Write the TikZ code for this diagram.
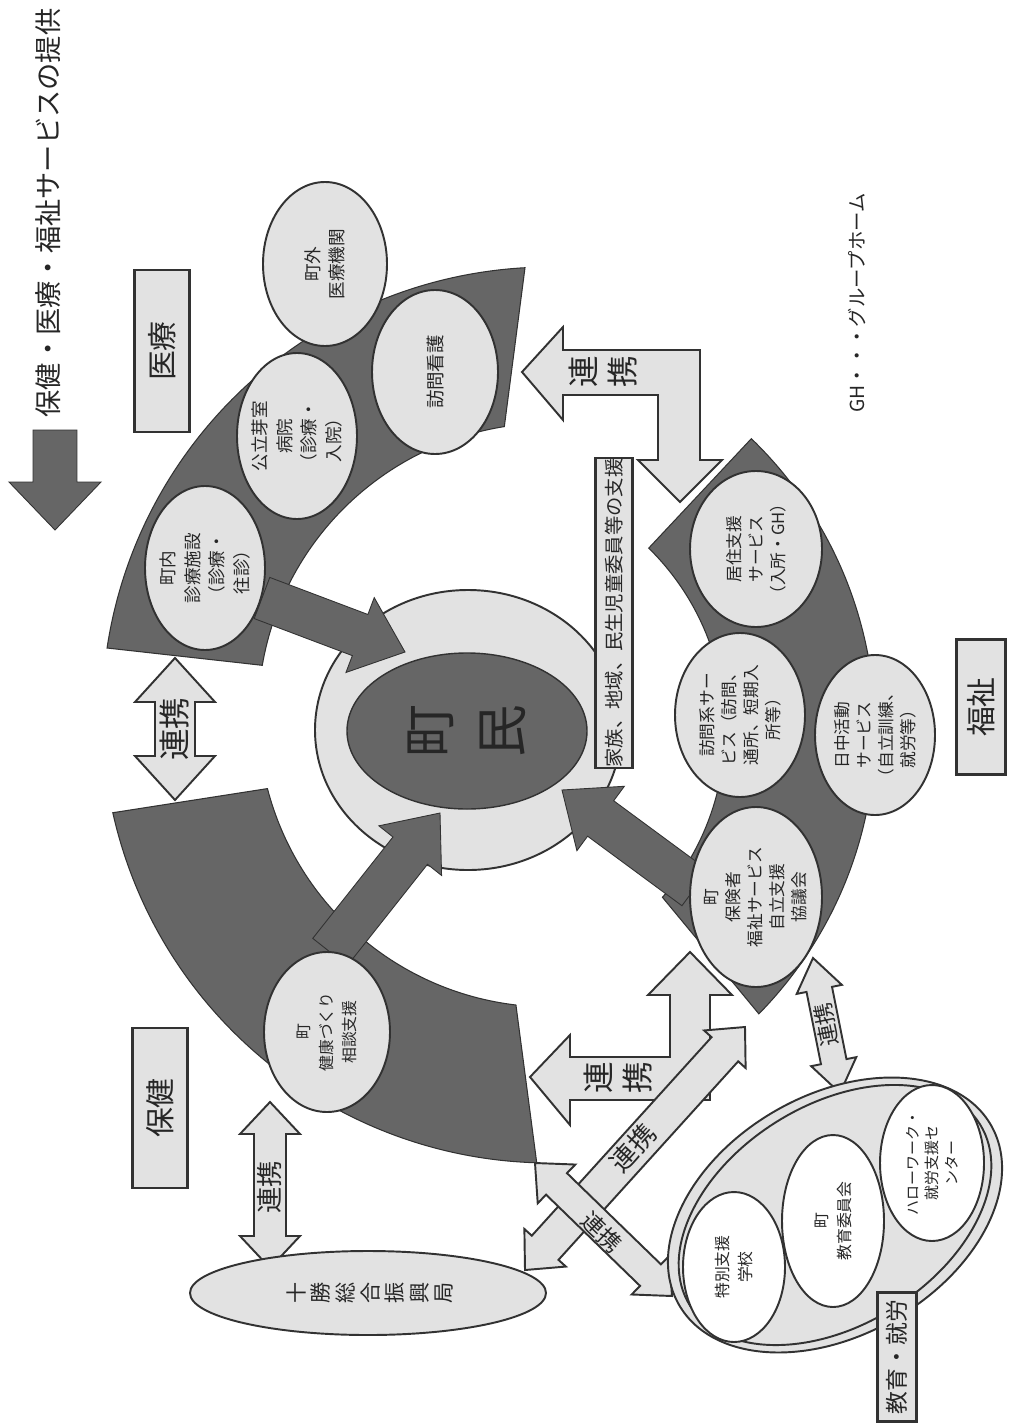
\documentclass[tikz,border=0pt]{standalone}
\usepackage{fontspec}
\setmainfont{Noto Sans CJK JP}
\usetikzlibrary{calc}
\definecolor{bandgray}{RGB}{102,102,102}
\definecolor{palegray}{RGB}{226,226,226}
\definecolor{edgegray}{RGB}{50,50,50}

% block arrow, one head: tail, tip, half shaft, half head, head length, style
\newcommand{\onearrow}[6]{%
  \coordinate (hd) at ($(#2)!#5!(#1)$);
  \draw[#6] ($(#1)!#3!90:(#2)$) -- ($(hd)!#3!90:(#2)$) -- ($(hd)!#4!90:(#2)$) -- (#2)
    -- ($(hd)!#4!-90:(#2)$) -- ($(hd)!#3!-90:(#2)$) -- ($(#1)!#3!-90:(#2)$) -- cycle;}
% block arrow, two heads
\newcommand{\twoarrow}[6]{%
  \coordinate (ha) at ($(#1)!#5!(#2)$);
  \coordinate (hb) at ($(#2)!#5!(#1)$);
  \draw[#6] (#1) -- ($(ha)!#4!90:(#2)$) -- ($(ha)!#3!90:(#2)$) -- ($(hb)!#3!-90:(#1)$)
    -- ($(hb)!#4!-90:(#1)$) -- (#2) -- ($(hb)!#4!90:(#1)$) -- ($(hb)!#3!90:(#1)$)
    -- ($(ha)!#3!-90:(#2)$) -- ($(ha)!#4!-90:(#2)$) -- cycle;}

\begin{document}
\begin{tikzpicture}[x=0.02cm, y=-0.02cm]
\tikzstyle{band}=[fill=bandgray, draw=edgegray, line width=0.6pt]
\tikzstyle{svc}=[fill=palegray, draw=edgegray, line width=1.1pt]
\tikzstyle{blank}=[fill=white, draw=edgegray, line width=1.1pt]
\tikzstyle{txt}=[rotate=90, align=center, inner sep=0pt, text=black!85]
\tikzstyle{box}=[rectangle, rotate=90, fill=palegray, draw=edgegray, line width=1.6pt, inner sep=0pt, text=black!85]
\tikzstyle{link}=[fill=palegray, draw=edgegray, line width=1.1pt, line join=miter]
\tikzstyle{push}=[fill=bandgray, draw=edgegray, line width=0.5pt, line join=miter]

\useasboundingbox (0,0) rectangle (1008,1426);
\fill[white] (0,0) rectangle (1008,1426);

% bands
\coordinate (ring) at (550,715);
\coordinate (ring2) at (470,730);
\draw[band] ($(ring)+(188.6:448)$) arc[start angle=188.6, end angle=266.8, radius=448]
  -- ($(ring)+(261:292)$) arc[start angle=261, end angle=189.8, radius=292] -- cycle;
\draw[band] ($(ring)+(167.4:448)$) arc[start angle=167.4, end angle=91.7, radius=448]
  -- ($(ring)+(96.7:292)$) arc[start angle=96.7, end angle=165.4, radius=292] -- cycle;
\draw[band] ($(ring2)+(314:405)$) arc[start angle=314, end angle=404.5, radius=405]
  -- ($(ring2)+(401:255)$) arc[start angle=401, end angle=314.5, radius=255] -- cycle;

% centre
\draw[svc] (468,730) ellipse[x radius=153, y radius=140];
\coordinate (ia) at (262,598); \coordinate (ib) at (405,652);
\onearrow{ia}{ib}{0.44cm}{0.8cm}{0.96cm}{push}
\coordinate (ka) at (330,952); \coordinate (kb) at (440,813);
\onearrow{ka}{kb}{0.44cm}{0.8cm}{0.96cm}{push}
\coordinate (fa) at (695,888); \coordinate (fb) at (562,790);
\onearrow{fa}{fb}{0.44cm}{0.8cm}{0.96cm}{push}
\draw[push, line width=0.8pt] (467,731) ellipse[x radius=120, y radius=78];
\node[txt, font=\fontsize{30}{41}\selectfont] (chomin) at (467,731) {町\\民};

\node[box, minimum width=6.2cm, minimum height=0.74cm, line width=1.4pt, font=\fontsize{11}{13}\selectfont] (kazoku) at (614,613) {家族、地域、民生児童委員等の支援};

% iryo
\draw[svc] (325,264) ellipse[x radius=62, y radius=82];
\node[txt, font=\fontsize{10}{14}\selectfont] (chogai) at (325,264) {町外\\医療機関};
\draw[svc] (435,372) ellipse[x radius=63, y radius=82];
\node[txt, font=\fontsize{10.5}{14}\selectfont] (homon) at (435,372) {訪問看護};
\draw[svc] (297,436) ellipse[x radius=60, y radius=83];
\node[txt, font=\fontsize{10}{14}\selectfont] (byoin) at (297,436) {公立芽室\\病院\\（診療・\\入院）};
\draw[svc] (205,568) ellipse[x radius=60, y radius=82];
\node[txt, font=\fontsize{10}{14}\selectfont] (naishin) at (205,568) {町内\\診療施設\\（診療・\\往診）};

% hoken
\draw[svc] (327,1032) ellipse[x radius=63, y radius=80];
\node[txt, font=\fontsize{9}{13}\selectfont] (kenko) at (327,1032) {町\\健康づくり\\相談支援};

% fukushi
\draw[svc] (756,549) ellipse[x radius=66, y radius=78];
\node[txt, font=\fontsize{9.5}{12.5}\selectfont] (kyoju) at (756,549) {居住支援\\サービス\\（入所・GH）};
\draw[svc] (740,715) ellipse[x radius=65, y radius=82];
\node[txt, font=\fontsize{9.5}{12.5}\selectfont] (homonkei) at (740,715) {訪問系サー\\ビス（訪問、\\通所、短期入\\所等）};
\draw[svc] (875,735) ellipse[x radius=60, y radius=80];
\node[txt, font=\fontsize{9.5}{12.5}\selectfont] (nitchu) at (875,735) {日中活動\\サービス\\（自立訓練、\\就労等）};
\draw[svc] (756,897) ellipse[x radius=66, y radius=90];
\node[txt, font=\fontsize{9.5}{12.5}\selectfont] (hokensha) at (756,897) {町\\保険者\\福祉サービス\\自立支援\\協議会};

% renkei
\coordinate (t1) at (522,372); \coordinate (t2) at (680,502);
\draw[link] (t1) -- (563,327) -- (563,350) -- (700,350) -- (700,460) -- (722,460) -- (t2)
  -- (638,460) -- (658,460) -- (658,395) -- (563,395) -- (563,420) -- cycle;
\node[txt, font=\fontsize{18}{22}\selectfont] (r1) at (603,372) {連\\携};
\coordinate (s1) at (530,1077); \coordinate (s2) at (690,952);
\draw[link] (s1) -- (570,1035) -- (570,1057) -- (670,1057) -- (670,995) -- (648,995) -- (s2)
  -- (732,995) -- (710,995) -- (710,1100) -- (570,1100) -- (570,1125) -- cycle;
\node[txt, font=\fontsize{18}{22}\selectfont] (r2) at (618,1078) {連\\携};
\coordinate (va) at (175,658); \coordinate (vb) at (175,800);
\twoarrow{va}{vb}{0.4cm}{0.8cm}{0.88cm}{link}
\node[txt, font=\fontsize{18}{20}\selectfont] (r3) at (175,729) {連携};
\coordinate (wa) at (270,1102); \coordinate (wb) at (270,1268);
\twoarrow{wa}{wb}{0.32cm}{0.6cm}{0.64cm}{link}
\node[txt, font=\fontsize{15}{17}\selectfont] (r4) at (270,1187) {連携};
\coordinate (ca) at (525,1270); \coordinate (cb) at (745,1027);
\twoarrow{ca}{cb}{0.36cm}{0.56cm}{0.6cm}{link}
\node[txt, rotate=-42.2, font=\fontsize{15}{17}\selectfont] (r5) at (633,1148) {連携};
\coordinate (da) at (535,1163); \coordinate (db) at (672,1296);
\twoarrow{da}{db}{0.3cm}{0.54cm}{0.6cm}{link}
\node[txt, rotate=-134, font=\fontsize{13}{15}\selectfont] (r6) at (602,1232) {連携};
\coordinate (ea) at (813,958); \coordinate (eb) at (840,1093);
\twoarrow{ea}{eb}{0.26cm}{0.46cm}{0.64cm}{link}
\node[txt, rotate=11.3, font=\fontsize{12.5}{14}\selectfont] (r7) at (826,1025) {連携};

% kyoiku
\draw[svc, rotate around={30:(835,1215)}] (835,1215) ellipse[x radius=180, y radius=120];
\draw[edgegray, line width=1.1pt, rotate around={32:(835,1215)}] (835,1215) ellipse[x radius=171, y radius=110];
\draw[blank] (734,1267) ellipse[x radius=51, y radius=75];
\node[txt, font=\fontsize{9}{13}\selectfont] (tokubetsu) at (734,1267) {特別支援\\学校};
\draw[blank] (833,1221) ellipse[x radius=51, y radius=86];
\node[txt, font=\fontsize{9}{13}\selectfont] (iinkai) at (833,1221) {町\\教育委員会};
\draw[blank] (932,1163) ellipse[x radius=52, y radius=78];
\node[txt, font=\fontsize{8.5}{11}\selectfont] (hellowork) at (932,1163) {ハローワーク・\\就労支援セ\\ンター};

% tokachi
\draw[svc] (368,1293) ellipse[x radius=178, y radius=42];
\node[txt, font=\fontsize{12}{14}\selectfont] (tokachi) at (370,1293) {十\\勝\\総\\合\\振\\興\\局};

% labels
\node[box, minimum width=3.24cm, minimum height=1.1cm, font=\fontsize{17}{20}\selectfont] (iryo) at (162,351) {医療};
\node[box, minimum width=3.2cm, minimum height=1.1cm, font=\fontsize{17}{20}\selectfont] (hoken) at (160,1108) {保健};
\node[box, minimum width=2.7cm, minimum height=0.98cm, font=\fontsize{17}{20}\selectfont] (fukushi) at (981,707) {福祉};
\node[box, minimum width=2.58cm, minimum height=0.78cm, font=\fontsize{13}{15}\selectfont] (kyoiku) at (897,1357) {教育・就労};
\node[txt, font=\fontsize{11}{13}\selectfont] (gh) at (857,303) {GH・・・グループホーム};

% title
\node[txt, font=\fontsize{15.5}{18}\selectfont] (title) at (48,213) {保健・医療・福祉サービスの提供};
\coordinate (ta) at (55,430); \coordinate (tb) at (55,530);
\onearrow{ta}{tb}{0.44cm}{0.92cm}{0.96cm}{push}
\end{tikzpicture}
\end{document}
